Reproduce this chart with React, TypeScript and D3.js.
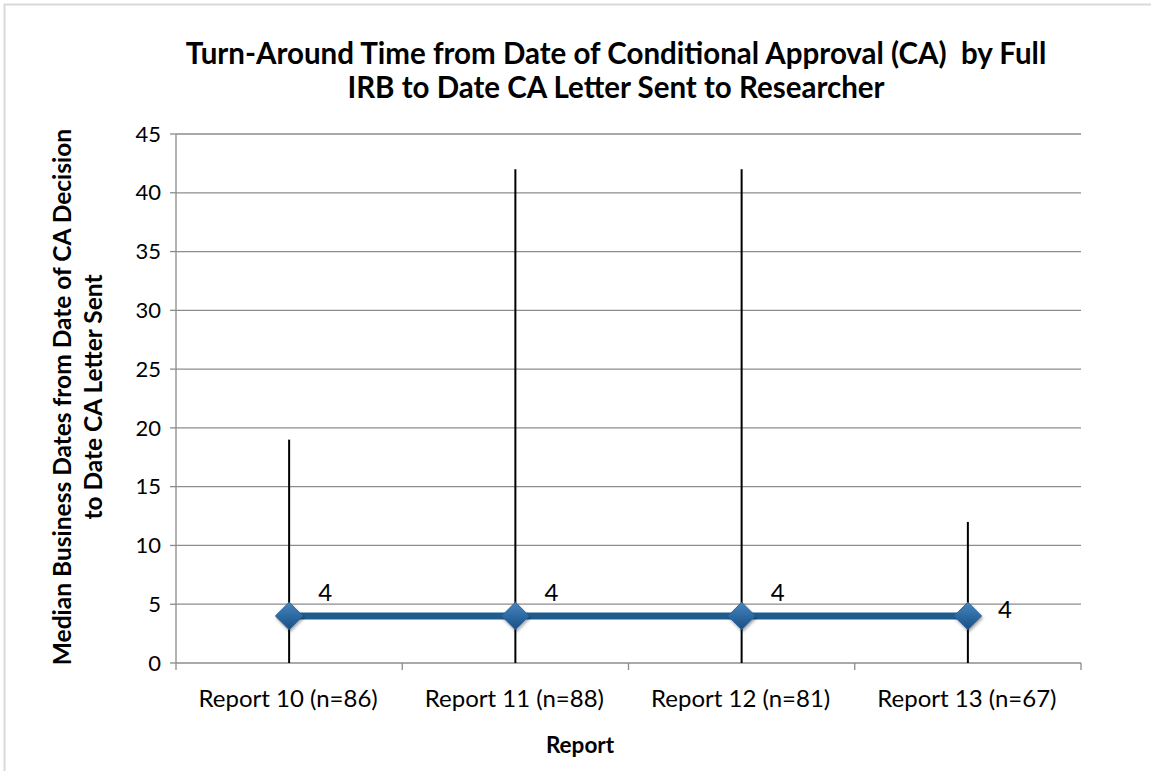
import React, { useEffect, useRef } from 'react';
import * as d3 from 'd3';

const categories = ['Report 10 (n=86)', 'Report 11 (n=88)', 'Report 12 (n=81)', 'Report 13 (n=67)'];
const medians = [4, 4, 4, 4];
const highs = [19, 42, 42, 12];
const lows = [0, 0, 0, 0];
const yTicks = [0, 5, 10, 15, 20, 25, 30, 35, 40, 45];
const titleLines = ['Turn-Around Time from Date of Conditional Approval (CA)  by Full', 'IRB to Date CA Letter Sent to Researcher'];
const yTitleLines = ['Median Business Dates from Date of CA Decision', 'to Date CA Letter Sent'];

const W = 1151;
const H = 771;
const FONT = 'Lato, "Open Sans", sans-serif';

export default function App() {
  const ref = useRef<SVGSVGElement>(null);

  useEffect(() => {
    const svg = d3.select(ref.current);
    svg.selectAll('*').remove();

    const left = 176, right = 1081, top = 134, bottom = 663;

    const x = d3.scaleBand().domain(categories).range([left, right]).padding(0);
    const y = d3.scaleLinear().domain([0, 45]).range([bottom, top]);
    const cx = (i: number) => (x(categories[i]) as number) + x.bandwidth() / 2;

    // defs: marker gradient + shadow
    const defs = svg.append('defs');
    const grad = defs.append('linearGradient').attr('id', 'dgrad').attr('x1', 0).attr('y1', 0).attr('x2', 0).attr('y2', 1);
    grad.append('stop').attr('offset', '0%').attr('stop-color', '#4a86bd');
    grad.append('stop').attr('offset', '50%').attr('stop-color', '#2c6aa3');
    grad.append('stop').attr('offset', '100%').attr('stop-color', '#1d4f7e');
    const f = defs.append('filter').attr('id', 'shadow').attr('x', '-50%').attr('y', '-50%').attr('width', '200%').attr('height', '200%');
    f.append('feDropShadow').attr('dx', 1).attr('dy', 2).attr('stdDeviation', 1.5).attr('flood-color', '#000').attr('flood-opacity', 0.35);

    // chart border
    svg.append('rect').attr('x', 4.5).attr('y', 4.5).attr('width', W + 10).attr('height', H + 10)
      .attr('fill', 'white').attr('stroke', '#d9d9d9').attr('stroke-width', 2);

    // gridlines
    svg.append('g').selectAll('line').data(yTicks.filter(t => t > 0)).join('line')
      .attr('x1', left).attr('x2', right)
      .attr('y1', d => y(d)).attr('y2', d => y(d))
      .attr('stroke', '#8c8c8c').attr('stroke-width', 1.3);

    // y axis
    const yAxis = svg.append('g');
    yAxis.append('line').attr('x1', left).attr('x2', left).attr('y1', top).attr('y2', bottom)
      .attr('stroke', '#8c8c8c').attr('stroke-width', 1.3);
    yAxis.selectAll('line.tick').data(yTicks).join('line').attr('class', 'tick')
      .attr('x1', left - 6).attr('x2', left).attr('y1', d => y(d)).attr('y2', d => y(d))
      .attr('stroke', '#8c8c8c').attr('stroke-width', 1.3);
    yAxis.selectAll('text').data(yTicks).join('text')
      .attr('x', 161).attr('y', d => y(d)).attr('dy', '0.35em')
      .attr('text-anchor', 'end').attr('font-family', FONT).attr('font-size', 22).attr('fill', '#000')
      .text(d => d);

    // x axis
    const xAxis = svg.append('g');
    xAxis.append('line').attr('x1', left).attr('x2', right).attr('y1', bottom).attr('y2', bottom)
      .attr('stroke', '#8c8c8c').attr('stroke-width', 1.3);
    const bounds = categories.map(c => x(c) as number).concat([right]);
    xAxis.selectAll('line.tick').data(bounds).join('line').attr('class', 'tick')
      .attr('x1', d => d).attr('x2', d => d).attr('y1', bottom).attr('y2', bottom + 7)
      .attr('stroke', '#8c8c8c').attr('stroke-width', 1.3);
    xAxis.selectAll('text').data(categories).join('text')
      .attr('x', (d, i) => cx(i) - 1).attr('y', 699).attr('dy', '0.35em')
      .attr('text-anchor', 'middle').attr('font-family', FONT).attr('font-size', 24).attr('fill', '#000')
      .text(d => d);

    // high-low lines
    svg.append('g').selectAll('line').data(categories).join('line')
      .attr('x1', (d, i) => cx(i)).attr('x2', (d, i) => cx(i))
      .attr('y1', (d, i) => y(lows[i])).attr('y2', (d, i) => y(highs[i]))
      .attr('stroke', '#000').attr('stroke-width', 2);

    // median line
    const line = d3.line<number>().x((d, i) => cx(i)).y(d => y(d));
    svg.append('path').datum(medians).attr('d', line)
      .attr('fill', 'none').attr('stroke', '#1f5b8c').attr('stroke-width', 7);

    // diamond markers
    const diamond = d3.symbol().type(d3.symbolDiamond2).size(480);
    svg.append('g').selectAll('path').data(medians).join('path')
      .attr('d', diamond)
      .attr('transform', (d, i) => `translate(${cx(i)},${y(d)})`)
      .attr('fill', 'url(#dgrad)').attr('stroke', '#2a64a0').attr('stroke-width', 1)
      .attr('filter', 'url(#shadow)');

    // data labels
    svg.append('g').selectAll('text').data(medians).join('text')
      .attr('x', (d, i) => cx(i) + (i === medians.length - 1 ? 37 : 36))
      .attr('y', (d, i) => y(d) + (i === medians.length - 1 ? -6 : -23))
      .attr('dy', '0.35em').attr('text-anchor', 'middle')
      .attr('font-family', FONT).attr('font-size', 24).attr('fill', '#000')
      .text(d => d);

    // title
    svg.append('g').selectAll('text').data(titleLines).join('text')
      .attr('x', 616).attr('y', (d, i) => 54 + i * 34).attr('dy', '0.35em')
      .attr('text-anchor', 'middle').attr('font-family', FONT).attr('font-weight', 'bold')
      .attr('font-size', 29.5).attr('fill', '#000').style('white-space', 'pre')
      .text(d => d);

    // y title
    svg.append('g').selectAll('text').data(yTitleLines).join('text')
      .attr('transform', (d, i) => `translate(${62 + i * 31},${397}) rotate(-90)`)
      .attr('dy', '0.35em').attr('text-anchor', 'middle').attr('font-family', FONT)
      .attr('font-weight', 'bold').attr('font-size', 24.5).attr('fill', '#000')
      .text(d => d);

    // x title
    svg.append('text').attr('x', 580).attr('y', 745).attr('dy', '0.35em')
      .attr('text-anchor', 'middle').attr('font-family', FONT).attr('font-weight', 'bold')
      .attr('font-size', 22.5).attr('fill', '#000').text('Report');
  }, []);

  return (
    <svg ref={ref} width={W} height={H} style={{ position: 'absolute', left: 0, top: 0 }} />
  );
}
